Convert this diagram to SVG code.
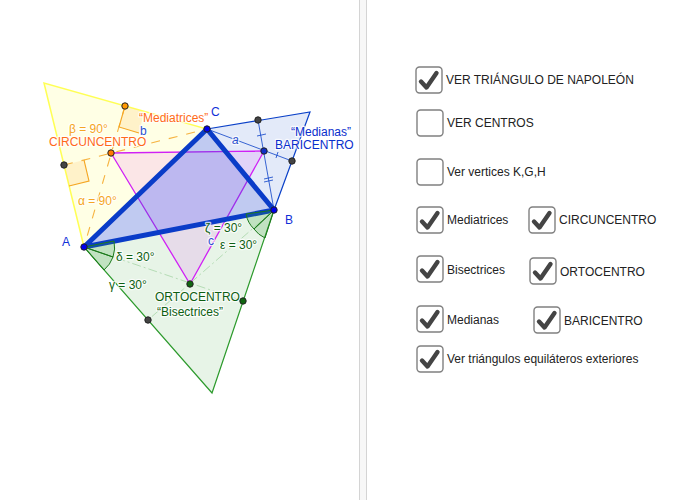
<svg xmlns="http://www.w3.org/2000/svg" width="700" height="500" viewBox="0 0 700 500">
<style>
text{font-family:"Liberation Sans",Arial,sans-serif}
.ui{font-size:12px;fill:#222}
.g text{font-size:12px;paint-order:stroke;stroke:#fff;stroke-width:2.5px;stroke-opacity:.75;stroke-linejoin:round}
.or{fill:#ff6a1a}
.lo{fill:#f5a623}
.gr{fill:#0e5f12}
.bl{fill:#0a2ecc}
.lt{fill:#2a50d0}
.vx{fill:#1030d8}
.pt{stroke:#222;stroke-width:1}
.box{fill:#fff;stroke:#808080;stroke-width:1.4}
.chk{fill:none;stroke:#444;stroke-width:4.4;stroke-linecap:round;stroke-linejoin:round}
</style>
<defs>
<g id="cb"><rect class="box" x="0" y="0" width="26" height="26" rx="3.5"/></g>
<g id="ck"><rect class="box" x="0" y="0" width="26" height="26" rx="3.5"/><path class="chk" d="M5 14.5L10.5 20.5L20.5 6"/></g>
</defs>
<rect width="700" height="500" fill="#fff"/>
<rect x="359.5" y="-1" width="7" height="502" fill="#f7f7f7" stroke="#d4d4d4" stroke-width="1"/>
<g id="triangles">
<polygon points="84,247 44,83 207,129" fill="#ffff99" fill-opacity=".25" stroke="#ffff55" stroke-width="1.5"/>
<polygon points="207,129 310,112 274,210" fill="#7f9fe5" fill-opacity=".22" stroke="#0a40c8" stroke-width="1.2"/>
<polygon points="84,247 274,210 212,393" fill="#5cb85c" fill-opacity=".15" stroke="#2c9a2c" stroke-width="1.2"/>
<polygon points="111,153 264,151 190,284" fill="#e040fb" fill-opacity=".13" stroke="#d020f5" stroke-width="1.3"/>
<polygon points="84,247 274,210 207,129" fill="#3050d0" fill-opacity=".3" stroke="#0a3cc8" stroke-width="5" stroke-linejoin="round"/>
</g>
<g id="connectors">
<g fill="#ffb74d" fill-opacity=".18" stroke="none">
<polygon points="65,165 84,160 89,181 69,186"/>
<polygon points="125,106 119,127 139,133 144,112"/>
</g>
<g fill="none" stroke="#f5a623" stroke-width="1.1">
<path d="M84,160L89,181L69,186"/>
<path d="M125,106L119,127L139,133"/>
</g>
<g fill="none" stroke="#f5a623" stroke-width="1.1" stroke-dasharray="9 9" stroke-opacity=".85">
<path d="M64,165L207,129"/>
<path d="M125,106L84,247"/>
</g>
<g fill="none" stroke="#0a40c8" stroke-width=".8">
<path d="M207,129L292,161"/>
<path d="M258,120L274,210"/>
<path d="M257,136L266,134M264,179L273,177M264,182L273,180M276,158L278,152"/>
</g>
<g fill="none" stroke="#b5dcb5" stroke-width="1" stroke-dasharray="9 3 2 3">
<path d="M84,247L243,301"/>
<path d="M274,210L148,320"/>
</g>
<g fill="#2c9a2c" fill-opacity=".2" stroke="#1d7a1d" stroke-width="1">
<path d="M84,247L113,257A30,30 0 0 0 114,241Z"/>
<path d="M84,247L104,270A30,30 0 0 0 113,257Z"/>
<path d="M274,210L254,229A28,28 0 0 1 246,214Z"/>
<path d="M274,210L265,238A28,28 0 0 1 254,229Z"/>
</g>
</g>
<g id="labels-geometry" class="g">
<text class="lo" x="69" y="133">β = 90°</text>
<text class="or" x="49" y="146">CIRCUNCENTRO</text>
<text class="or" x="139" y="122">“Mediatrices”</text>
<text class="lo" x="78" y="205">α = 90°</text>
<text class="lt" x="140" y="135">b</text>
<text class="vx" x="211" y="116">C</text>
<text class="lt" x="232" y="144" style="font-style:italic">a</text>
<text class="bl" x="291" y="136">“Medianas”</text>
<text class="bl" x="275" y="149">BARICENTRO</text>
<text class="vx" x="285" y="224">B</text>
<text class="vx" x="62" y="246">A</text>
<text class="gr" x="205" y="232">ζ = 30°</text>
<text class="lt" x="208" y="245">c</text>
<text class="gr" x="220" y="249">ε = 30°</text>
<text class="gr" x="116" y="261">δ = 30°</text>
<text class="gr" x="109" y="289">γ = 30°</text>
<text class="gr" x="155" y="301">ORTOCENTRO</text>
<text class="gr" x="157" y="316">“Bisectrices”</text>
</g>
<g id="points">
<circle class="pt" cx="125" cy="106" r="3.2" fill="#ff9800"/>
<circle class="pt" cx="64" cy="165" r="3.2" fill="#444"/>
<circle class="pt" cx="111" cy="153" r="3.2" fill="#ff7a00"/>
<circle class="pt" cx="258" cy="120" r="3.2" fill="#444"/>
<circle class="pt" cx="292" cy="161" r="3.2" fill="#444"/>
<circle class="pt" cx="264" cy="151" r="3.2" fill="#1030c8"/>
<circle class="pt" cx="207" cy="129" r="3.2" fill="#0000ee"/>
<circle class="pt" cx="274" cy="210" r="3.2" fill="#0000ee"/>
<circle class="pt" cx="84" cy="247" r="3.2" fill="#0000ee"/>
<circle class="pt" cx="190" cy="284" r="3.2" fill="#116611"/>
<circle class="pt" cx="243" cy="301" r="3.2" fill="#116611"/>
<circle class="pt" cx="148" cy="320" r="3.2" fill="#444"/>
</g>
<g id="cb1"><use href="#ck" x="416" y="67"/><text class="ui" x="446" y="84">VER TRIÁNGULO DE NAPOLEÓN</text></g>
<g id="cb2"><use href="#cb" x="417" y="110"/><text class="ui" x="447" y="127">VER CENTROS</text></g>
<g id="cb3"><use href="#cb" x="417" y="159"/><text class="ui" x="447" y="176">Ver vertices K,G,H</text></g>
<g id="cb4"><use href="#ck" x="417" y="207"/><text class="ui" x="447" y="224">Mediatrices</text></g>
<g id="cb5"><use href="#ck" x="529" y="207"/><text class="ui" x="559" y="224">CIRCUNCENTRO</text></g>
<g id="cb6"><use href="#ck" x="417" y="256"/><text class="ui" x="447" y="274">Bisectrices</text></g>
<g id="cb7"><use href="#ck" x="530" y="258"/><text class="ui" x="560" y="276">ORTOCENTRO</text></g>
<g id="cb8"><use href="#ck" x="417" y="306"/><text class="ui" x="447" y="324">Medianas</text></g>
<g id="cb9"><use href="#ck" x="534" y="307"/><text class="ui" x="564" y="325">BARICENTRO</text></g>
<g id="cb10"><use href="#ck" x="417" y="346"/><text class="ui" x="447" y="363">Ver triángulos equiláteros exteriores</text></g>
</svg>
